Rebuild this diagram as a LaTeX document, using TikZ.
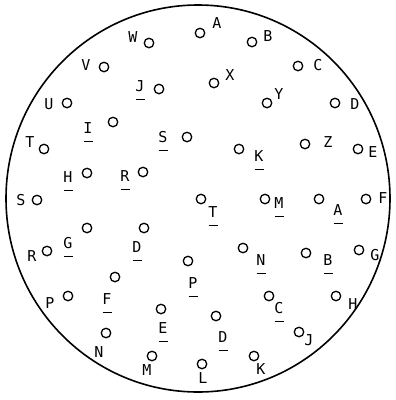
\documentclass[tikz,border=0pt]{standalone}
\usepackage{fontspec}
\setmonofont{DejaVu Sans Mono}
\begin{document}
\begin{tikzpicture}[x=1pt,y=-1pt,
  pin/.style={circle,draw,line width=1.3pt,minimum size=9.5pt,inner sep=0pt},
  lbl/.style={inner sep=0pt,font=\ttfamily\fontsize{15}{16}\selectfont},
  uline/.style={line width=1.3pt},
  shell/.style={line width=1.6pt}]
\useasboundingbox (0,0) rectangle (396,400);
\draw[shell] (198,198.5) ellipse [x radius=192, y radius=193.5];
% outer ring: name / letter position / pin position
\foreach \n/\lx/\ly/\px/\py in {
  A/217/23/200/33, B/268/36/252/42, C/318/65/298/66, D/355/104/335/103,
  E/373/152/358/149, F/383/198/366/199, G/375/255/359/250, H/353/304/336/296,
  J/309/340/299/332, K/261/369/254/356, L/203/378/202/364, M/147/370/152/356,
  N/99/352/106/333, P/50/303/68/296, R/32/256/47/251, S/21/200/37/200,
  T/30/142/44/149, U/49/104/67/103, V/86/65/104/67, W/133/37/149/43,
  X/230/75/214/83, Y/279/94/267/103, Z/328/142/305/144}{
  \node[pin] (o\n) at (\px,\py) {};
  \node[lbl] (t\n) at (\lx,\ly) {\n};
}
% inner ring (underlined letters)
\foreach \n/\t/\lx/\ly/\px/\py in {
  A/A/338/210/319/199, B/B/328/260/306/253, C/C/279/308/269/296,
  D/D/223/337/216/316, E/E/163/328/161/309, F/F/107/299/115/277,
  G/G/68/243/87/228, H/H/68/177/87/173, I/I/88/128/113/122,
  J/J/140/86/159/89, K/K/259/156/239/149, M/M/279/203/265/199,
  N/N/261/260/243/248, P/P/193/283/188/261, R/R/125/176/143/172,
  S/S/163/137/187/137, T/T/213/212/201/199, DD/D/137/247/144/228}{
  \node[pin] (i\n) at (\px,\py) {};
  \node[lbl] (u\n) at (\lx,\ly) {\t};
  \draw[uline] ([shift={(-4.5,13.5)}]u\n.center) -- ++(9,0);
}
\end{tikzpicture}
\end{document}
